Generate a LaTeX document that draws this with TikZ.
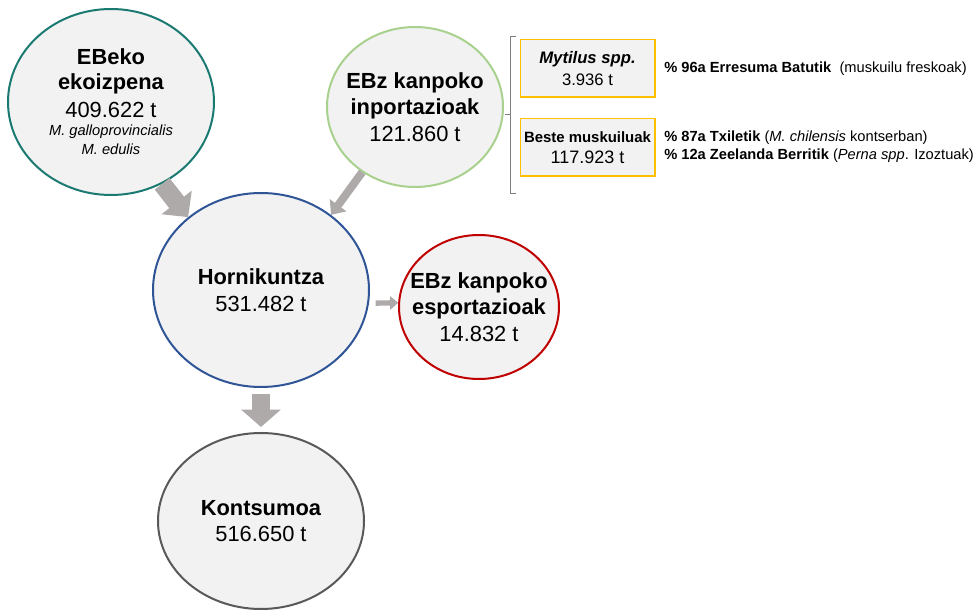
\documentclass[tikz,border=0pt]{standalone}
\usepackage{fontspec}
\setmainfont{Liberation Sans}
\usetikzlibrary{arrows.meta,shapes.geometric}
\definecolor{fillgray}{HTML}{F2F2F2}
\definecolor{arrgray}{HTML}{AEAAAA}
\definecolor{tealc}{HTML}{1A7A72}
\definecolor{greenc}{HTML}{A9D18E}
\definecolor{bluec}{HTML}{2F5597}
\definecolor{redc}{HTML}{C00000}
\definecolor{darkc}{HTML}{595959}
\definecolor{goldc}{HTML}{FFC000}
\newcommand{\fsz}[2]{\fontsize{#1}{#2}\selectfont}
\tikzset{
  bubble/.style={ellipse, draw=#1, line width=1.5pt, fill=fillgray, inner sep=-25pt,
    align=center, font=\fsz{16.4}{20}},
  srcbox/.style={draw=goldc, line width=1pt, fill=fillgray, minimum width=101pt,
    minimum height=43pt, inner sep=0pt, align=center},
  note/.style={font=\fsz{11}{13.5}, inner sep=0pt, anchor=base west},
  flow/.style={draw=arrgray, line width=#1},
}
\begin{document}
\begin{tikzpicture}[x=0.75pt,y=-0.75pt]
  \useasboundingbox (0,0) rectangle (976,613);
  % bubbles
  \node[bubble=tealc, minimum width=154.5pt, minimum height=139.5pt] (ebeko) at (111,102)
    {\textbf{EBeko}\\[-1.25pt]\textbf{ekoizpena}\\[1pt]409.622 t\\[-6.5pt]
     {\fsz{11}{13}\itshape M. galloprovincialis}\\[-5.7pt]{\fsz{11}{13}\itshape M. edulis}};
  \node[bubble=greenc, minimum width=132pt, minimum height=120pt] (impo) at (415,107)
    {\textbf{EBz kanpoko}\\\textbf{inportazioak}\\121.860 t};
  \node[bubble=bluec, minimum width=162pt, minimum height=145.5pt] (horn) at (261,290)
    {\textbf{Hornikuntza}\\531.482 t};
  \node[bubble=redc, minimum width=120pt, minimum height=108pt] (expo) at (479,307)
    {\textbf{EBz kanpoko}\\\textbf{esportazioak}\\14.832 t};
  \node[bubble=darkc, minimum width=154.5pt, minimum height=132pt] (kons) at (261,521)
    {\textbf{Kontsumoa}\\516.650 t};
  % flows
  \draw[flow=14pt, -{Triangle[width=28pt,length=14pt]}] (ebeko.-58) -- (horn.135);
  \draw[flow=6pt, -{Triangle[width=15pt,length=9pt]}] (impo.-129) -- (horn.47);
  \draw[flow=4pt, -{Triangle[width=10pt,length=6pt]}, shorten <=5pt] (horn.-7) -- (expo.177);
  \draw[flow=13.5pt, -{Triangle[width=29pt,length=13pt]}, shorten <=4.5pt, shorten >=3.75pt]
    (horn.south) -- (kons.north);
  % brace
  \draw[gray, line width=0.6pt] (516,36) -- (510,36) -- (510,193) -- (516,193);
  \draw[gray, line width=0.6pt] (510,114) -- (505,114);
  % import detail
  \node[srcbox, font=\fsz{12.5}{16.5}] (myt) at (587.5,68.5)
    {{\bfseries\itshape Mytilus spp.}\\3.936 t};
  \node[srcbox, font=\fsz{12}{15.75}] (beste) at (587.5,147.5)
    {{\bfseries\fsz{11.2}{15.75}Beste muskuiluak}\\{\fsz{13.5}{15.75}117.923 t}};
  \node[note] (uk) at (664,73) {\textbf{\% 96a Erresuma Batutik}\ \ (muskuilu freskoak)};
  \node[note] (chile) at (664,142) {\textbf{\% 87a Txiletik} (\textit{M. chilensis} kontserban)};
  \node[note] (nz) at (664,160) {\textbf{\% 12a Zeelanda Berritik} (\textit{Perna spp}. Izoztuak)};
\end{tikzpicture}
\end{document}
